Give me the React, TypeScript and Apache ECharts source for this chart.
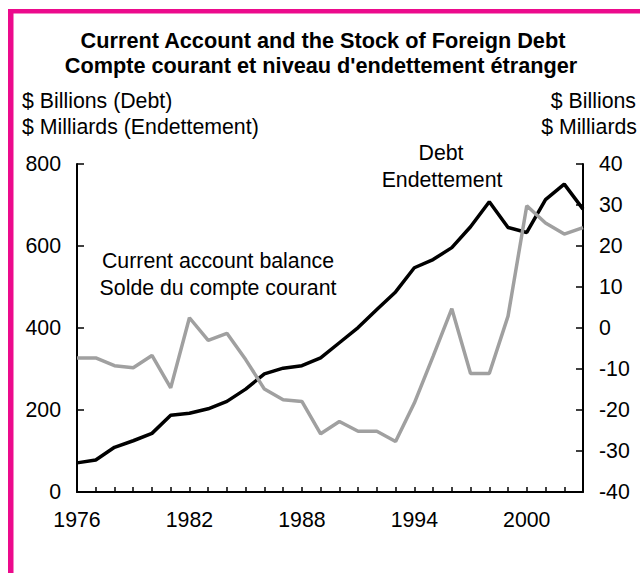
import React, { useEffect, useRef } from "react";
import * as echarts from "echarts";

const years = [1976, 1977, 1978, 1979, 1980, 1981, 1982, 1983, 1984, 1985, 1986, 1987, 1988, 1989, 1990, 1991, 1992, 1993, 1994, 1995, 1996, 1997, 1998, 1999, 2000, 2001, 2002, 2003];
const debt = [71, 78, 109, 125, 143, 187, 192, 203, 221, 251, 288, 302, 308, 327, 364, 401, 445, 488, 547, 567, 596, 647, 708, 645, 633, 713, 751, 690];
const currentAccount = [-7.3, -7.3, -9.2, -9.7, -6.7, -14.6, 2.5, -3.0, -1.3, -7.7, -14.9, -17.5, -17.9, -25.8, -22.8, -25.2, -25.2, -27.7, -18.3, -6.9, 4.7, -11.1, -11.1, 2.9, 29.8, 25.6, 22.9, 24.5];
const xLabelYears = [1976, 1982, 1988, 1994, 2000];
const titleLines = ["Current Account and the Stock of Foreign Debt", "Compte courant et niveau d'endettement étranger"];
const leftUnits = ["$ Billions (Debt)", "$ Milliards (Endettement)"];
const rightUnits = ["$ Billions", "$ Milliards"];
const debtLabel = ["Debt", "Endettement"];
const caLabel = ["Current account balance", "Solde du compte courant"];

const FONT = '"Liberation Sans", Arial, Helvetica, sans-serif';
const MAGENTA = "#EC0A8C";
const FS = 21.3;

export default function App() {
  const ref = useRef<HTMLDivElement>(null);
  useEffect(() => {
    if (!ref.current) return;
    const chart = echarts.init(ref.current, undefined, { renderer: "svg" });
    const txt = (text: string, x: number, y: number, align: string, bold = false, size = FS) => ({
      type: "text",
      x,
      y,
      silent: true,
      style: {
        text,
        font: `${bold ? "bold " : ""}${size}px ${FONT}`,
        fill: "#000",
        textAlign: align,
        textVerticalAlign: "middle",
      },
    });
    const axisCommon = {
      axisLine: { show: true, lineStyle: { color: "#000", width: 2 } },
      axisTick: { show: true, inside: true, length: 7, lineStyle: { color: "#000", width: 1.5 } },
      splitLine: { show: false },
      axisLabel: { color: "#000", fontSize: FS, fontFamily: FONT, margin: 16 },
    };
    chart.setOption({
      animation: false,
      backgroundColor: "#fff",
      textStyle: { fontFamily: FONT },
      grid: { left: 77, top: 164, width: 506, height: 328, containLabel: false },
      xAxis: {
        type: "value",
        min: 1976,
        max: 2003,
        interval: 1,
        axisLine: { show: true, onZero: false, lineStyle: { color: "#000", width: 2 } },
        axisTick: { show: true, inside: true, length: 5, lineStyle: { color: "#000", width: 1.5 } },
        splitLine: { show: false },
        axisLabel: {
          color: "#000",
          fontSize: FS,
          fontFamily: FONT,
          margin: 17,
          hideOverlap: false,
          formatter: (v: number) => (xLabelYears.includes(v) ? String(v) : ""),
        },
      },
      yAxis: [
        { type: "value", position: "left", min: 0, max: 800, interval: 200, ...axisCommon },
        { type: "value", position: "right", min: -40, max: 40, interval: 10, ...axisCommon },
      ],
      series: [
        {
          type: "line",
          yAxisIndex: 0,
          data: years.map((y, i) => [y, debt[i]]),
          symbol: "none",
          lineStyle: { color: "#000", width: 3.5 },
          z: 2,
        },
        {
          type: "line",
          yAxisIndex: 1,
          data: years.map((y, i) => [y, currentAccount[i]]),
          symbol: "none",
          lineStyle: { color: "#A0A0A0", width: 3.5 },
          z: 3,
        },
      ],
      graphic: [
        { type: "rect", silent: true, shape: { x: 8, y: 9, width: 5.5, height: 600 }, style: { fill: MAGENTA } },
        { type: "rect", silent: true, shape: { x: 8, y: 9, width: 700, height: 4.5 }, style: { fill: MAGENTA } },
        txt(titleLines[0], 323, 40, "center", true, 21.7),
        txt(titleLines[1], 321, 65, "center", true, 21.7),
        txt(leftUnits[0], 22, 101, "left"),
        txt(leftUnits[1], 22, 127, "left"),
        txt(rightUnits[0], 636, 101, "right"),
        txt(rightUnits[1], 637, 127, "right"),
        txt(debtLabel[0], 441, 153, "center"),
        txt(debtLabel[1], 442, 180, "center"),
        txt(caLabel[0], 218, 261, "center"),
        txt(caLabel[1], 218, 288, "center"),
      ],
    });
    return () => chart.dispose();
  }, []);
  return (
    <div
      ref={ref}
      style={{ position: "absolute", left: 0, top: 0, width: 640, height: 573, background: "#fff" }}
    />
  );
}
